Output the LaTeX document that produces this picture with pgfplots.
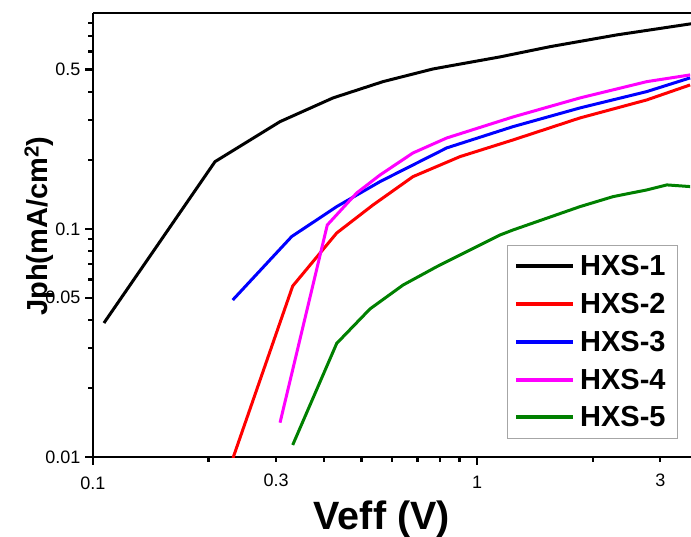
\documentclass[border=0pt]{standalone}
\usepackage{fontspec}
\setmainfont{Liberation Sans}
\usepackage{pgfplots}
\pgfplotsset{compat=1.18}
\definecolor{cgreen}{RGB}{0,128,0}
\definecolor{cmag}{RGB}{255,0,255}
\definecolor{cred}{RGB}{255,0,0}
\definecolor{cblue}{RGB}{0,0,255}
\begin{document}
\begin{tikzpicture}
\begin{axis}[
  at={(0,0)}, anchor=south west,
  scale only axis, width=598pt, height=444pt,
  xmode=log, ymode=log,
  xmin=0.1, xmax=3.606, ymin=0.01, ymax=0.885,
  axis x line*=box, axis y line*=left,
  axis line style={line width=2.6pt, black},
  clip=true,
  xtick={0.1,1}, xticklabels={0.1,1},
  extra x ticks={0.3,3}, extra x tick labels={0.3,3},
  extra x tick style={major tick length=5pt},
  minor xtick={0.2,0.4,0.5,0.6,0.7,0.8,0.9,2},
  ytick={0.01,0.05,0.1,0.5}, yticklabels={0.01,0.05,0.1,0.5},
  minor ytick={0.02,0.03,0.04,0.06,0.07,0.08,0.09,0.2,0.3,0.4,0.6,0.7,0.8},
  xtick pos=left, ytick pos=left,
  tick align=outside,
  major tick length=8pt, minor tick length=5pt,
  every tick/.style={line width=2.2pt, black},
  tick label style={font=\fontsize{18}{20}\selectfont},
  xticklabel style={yshift=-8pt},
  yticklabel style={xshift=-1pt},
  xlabel={\textbf{Veff (V)}},
  ylabel={\textbf{Jph(mA/cm\textsuperscript{2})}},
  xlabel style={font=\fontsize{39.5}{42}\selectfont, at={(axis description cs:0.483,-0.1622)}, anchor=base},
  ylabel style={font=\fontsize{29}{30}\selectfont, at={(axis description cs:-0.09,0.52)}, anchor=center, rotate=0},
  legend style={at={(axis description cs:0.692,0.477)}, anchor=north west,
    draw=gray!70, line width=0.8pt, font=\fontsize{29}{30}\selectfont\bfseries,
    row sep=12pt, inner xsep=7pt, inner ysep=8pt,
    nodes={inner xsep=5pt}},
  legend cell align=left,
  legend image code/.code={\draw[#1, line width=4pt] (0pt,0pt) -- (57pt,0pt);},
]
\addplot[black, line width=3pt] coordinates {
(0.1068,0.0387) (0.2078,0.1973) (0.3069,0.2955) (0.4217,0.3755) (0.569,0.4426)
(0.768,0.503) (0.851,0.519) (1.148,0.5682) (1.549,0.630) (2.311,0.7094) (3.606,0.7937)};
\addlegendentry{HXS-1}
\addplot[cred, line width=3pt] coordinates {
(0.2315,0.0099) (0.3311,0.0562) (0.4311,0.0960) (0.5359,0.1274) (0.681,0.1696)
(0.903,0.2076) (1.241,0.2457) (1.854,0.3068) (2.767,0.3680) (3.587,0.4281)};
\addlegendentry{HXS-2}
\addplot[cblue, line width=3pt] coordinates {
(0.2311,0.0488) (0.3291,0.0926) (0.4311,0.1253) (0.559,0.1613) (0.834,0.2267)
(1.241,0.2810) (1.854,0.3394) (2.767,0.4003) (3.587,0.4596)};
\addlegendentry{HXS-3}
\addplot[cmag, line width=3pt] coordinates {
(0.3069,0.01414) (0.4074,0.1041) (0.486,0.1438) (0.559,0.1725) (0.681,0.2154)
(0.834,0.2506) (1.241,0.3099) (1.854,0.3755) (2.767,0.4426) (3.587,0.4736)};
\addlegendentry{HXS-4}
\addplot[cgreen, line width=3pt] coordinates {
(0.3311,0.01129) (0.4311,0.0315) (0.5263,0.0446) (0.642,0.0568) (0.785,0.0683)
(0.959,0.0809) (1.148,0.0941) (1.241,0.0990) (1.854,0.1253) (2.26,0.1386)
(2.767,0.1483) (3.119,0.156) (3.587,0.1534)};
\addlegendentry{HXS-5}
\end{axis}
\pgfresetboundingbox
\path[use as bounding box] (-93pt,-80pt) rectangle (598pt,457pt);
\end{tikzpicture}
\end{document}
